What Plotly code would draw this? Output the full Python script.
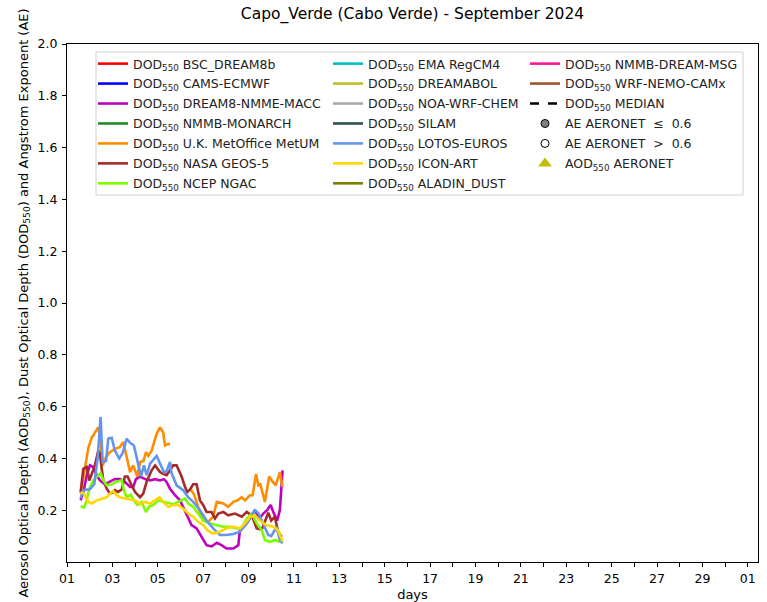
import pandas as pd
import plotly.graph_objects as go

# ---- model dust optical depth at 550 nm, Capo Verde, September 2024 ----
# times are given as fractional day of month; None marks a gap in the record
metum_days = [1.6, 1.79, 1.94, 2.09, 2.23, 2.38, 2.48, 2.57, 2.72, 2.89, 3.11, 3.33, 3.48, 3.63,
              3.78, 3.92, 4.1, 4.22, 4.37, 4.48, 4.58, 4.73, 4.95, 5.1, 5.24, 5.32, 5.42, 5.54,
              5.6, 6.45, 6.6, 6.78, 7.0, 7.22, 7.44, 7.6, 7.89, 8.1, 8.33, 8.55, 8.7, 8.85, 9.06,
              9.18, 9.33, 9.43, 9.52, 9.72, 9.91, 10.06, 10.2, 10.38, 10.5]
metum_dod = [0.264, 0.367, 0.44, 0.48, 0.50, 0.52, 0.47, 0.373, 0.405, 0.424, 0.437, 0.443, 0.463, 0.40,
             0.347, 0.373, 0.33, 0.386, 0.39, 0.424, 0.41, 0.43, 0.495, 0.52, 0.50, 0.45, 0.455, 0.456,
             None, 0.28, 0.26, 0.213, 0.16, 0.155, 0.175, 0.232, 0.226, 0.213, 0.232, 0.24, 0.25, 0.238, 0.258,
             0.258, 0.34, 0.296, 0.30, 0.232, 0.33, 0.31, 0.296, 0.347, 0.29]

geos5_days = [1.6, 1.72, 1.87, 1.98, 2.09, 2.23, 2.38, 2.45, 2.53, 2.6, 2.75, 2.89, 3.04, 3.11, 3.25,
              3.41, 3.55, 3.67, 3.85, 4.0, 4.22, 4.36, 4.51, 4.73, 4.88, 5.1, 5.24, 5.39, 5.54, 5.68,
              5.83, 6.05, 6.2, 6.3, 6.42, 6.56, 6.71, 6.86, 7.0, 7.15, 7.37, 7.52, 7.67, 7.89, 8.1,
              8.4, 8.7, 8.92, 9.14, 9.36, 9.58, 9.72, 9.87, 10.0, 10.16, 10.3, 10.46]
geos5_dod = [0.27, 0.36, 0.367, 0.315, 0.34, 0.373, 0.43, 0.42, 0.36, 0.315, 0.283, 0.264, 0.27, 0.277, 0.27,
             0.28, 0.33, 0.33, 0.296, 0.27, 0.25, 0.264, 0.31, 0.354, 0.373, 0.347, 0.34, 0.335, 0.354, 0.373,
             0.373, 0.33, 0.29, 0.27, 0.28, 0.30, 0.30, 0.238, 0.22, 0.193, 0.193, 0.168, 0.187, 0.193, 0.18,
             0.187, 0.175, 0.193, 0.18, 0.13, 0.125, 0.16, 0.19, 0.16, 0.175, 0.117, 0.097]

dream8_days = [1.6, 1.72, 1.87, 2.01, 2.16, 2.31, 2.45, 2.67, 2.89, 3.11, 3.33, 3.55, 3.78, 3.92, 4.04,
               4.22, 4.44, 4.66, 4.88, 5.1, 5.27, 5.38, 5.54, 5.76, 5.98, 6.12, 6.27, 6.49, 6.71, 6.93,
               7.15, 7.37, 7.6, 7.81, 8.03, 8.33, 8.55, 8.62, 8.85, 9.06, 9.28, 9.48, 9.65, 9.82, 9.97,
               10.12, 10.26, 10.38, 10.5]
dream8_dod = [0.238, 0.27, 0.335, 0.373, 0.367, 0.335, 0.315, 0.30, 0.31, 0.32, 0.32, 0.31, 0.29, 0.29, 0.32,
              0.33, 0.32, 0.315, 0.32, 0.315, 0.32, 0.31, 0.283, 0.258, 0.238, 0.213, 0.18, 0.142, 0.13, 0.097,
              0.065, 0.06, 0.074, 0.065, 0.052, 0.052, 0.065, 0.123, 0.142, 0.168, 0.2, 0.168, 0.187, 0.2, 0.22,
              0.187, 0.16, 0.2, 0.354]

ngac_days = [1.6, 1.75, 1.87, 1.98, 2.16, 2.31, 2.48, 2.6, 2.75, 2.97, 3.19, 3.41, 3.51, 3.63, 3.81,
             3.95, 4.1, 4.29, 4.48, 4.63, 4.8, 5.02, 5.24, 5.46, 5.68, 5.9, 6.2, 6.34, 6.56, 6.78,
             7.0, 7.3, 7.6, 7.89, 8.18, 8.47, 8.7, 8.92, 9.14, 9.36, 9.58, 9.72, 9.94, 10.16, 10.35, 10.5]
ngac_dod = [0.215, 0.21, 0.238, 0.283, 0.315, 0.33, 0.343, 0.315, 0.296, 0.30, 0.31, 0.315, 0.277, 0.25, 0.26,
            0.238, 0.22, 0.232, 0.193, 0.215, 0.22, 0.238, 0.232, 0.226, 0.223, 0.232, 0.245, 0.226, 0.213, 0.187,
            0.16, 0.149, 0.142, 0.136, 0.136, 0.13, 0.13, 0.168, 0.187, 0.149, 0.123, 0.085, 0.078, 0.085, 0.078, 0.09]

lotos_days = [1.6, 1.72, 1.87, 2.0, 2.2, 2.35, 2.48, 2.57, 2.72, 2.82, 2.97, 3.11, 3.30, 3.45, 3.63,
              3.78, 3.95, 4.07, 4.26, 4.39, 4.51, 4.66, 4.95, 5.10, 5.27, 5.38, 5.54, 5.60, 5.83, 6.12,
              6.34, 6.56, 6.86, 7.15, 7.44, 7.74, 8.0, 8.33, 8.62, 8.92, 9.14, 9.28, 9.42, 9.65, 9.87,
              10.0, 10.24, 10.38, 10.5]
lotos_dod = [0.246, 0.277, 0.28, 0.28, 0.30, 0.40, 0.56, 0.386, 0.39, 0.477, 0.48, 0.43, 0.40, 0.42, 0.476,
             0.46, 0.45, 0.405, 0.33, 0.373, 0.335, 0.38, 0.41, 0.38, 0.347, 0.35, 0.386, 0.345, 0.296, 0.277,
             0.25, 0.232, 0.2, 0.16, 0.13, 0.104, 0.104, 0.108, 0.117, 0.149, 0.18, 0.2, 0.19, 0.149, 0.104,
             0.10, 0.136, 0.085, 0.072]

iconart_days = [1.6, 1.75, 1.94, 2.09, 2.31, 2.53, 2.75, 2.89, 3.04, 3.19, 3.33, 3.55, 3.78, 4.0, 4.22,
                4.44, 4.66, 4.88, 5.07, 5.24, 5.46, 5.68, 5.9, 6.12, 6.34, 6.56, 6.78, 7.0, 7.22, 7.44,
                7.74, 8.03, 8.33, 8.62, 8.84, 9.06, 9.28, 9.5, 9.8, 10.09, 10.3, 10.5]
iconart_dod = [0.27, 0.264, 0.232, 0.226, 0.238, 0.245, 0.25, 0.264, 0.274, 0.258, 0.25, 0.245, 0.24, 0.238, 0.223,
               0.232, 0.226, 0.238, 0.25, 0.232, 0.213, 0.22, 0.22, 0.206, 0.187, 0.175, 0.155, 0.142, 0.12, 0.11,
               0.117, 0.13, 0.136, 0.13, 0.149, 0.175, 0.18, 0.16, 0.142, 0.136, 0.123, 0.078]

# ---- legend layout: (name, colour, column, days, values) ----
models = [
    ("BSC_DREAM8b", "#ff0000", 1, None, None),
    ("CAMS-ECMWF", "#0000ff", 1, None, None),
    ("DREAM8-NMME-MACC", "#bf00bf", 1, dream8_days, dream8_dod),
    ("NMMB-MONARCH", "#228b22", 1, None, None),
    ("U.K. MetOffice MetUM", "#ff8c00", 1, metum_days, metum_dod),
    ("NASA GEOS-5", "#a52a2a", 1, geos5_days, geos5_dod),
    ("NCEP NGAC", "#7cfc00", 1, ngac_days, ngac_dod),
    ("EMA RegCM4", "#00bfbf", 2, None, None),
    ("DREAMABOL", "#bfbf1f", 2, None, None),
    ("NOA-WRF-CHEM", "#a9a9a9", 2, None, None),
    ("SILAM", "#2f4f4f", 2, None, None),
    ("LOTOS-EUROS", "#6495ed", 2, lotos_days, lotos_dod),
    ("ICON-ART", "#ffd700", 2, iconart_days, iconart_dod),
    ("ALADIN_DUST", "#808000", 2, None, None),
    ("NMMB-DREAM-MSG", "#ff1493", 3, None, None),
    ("WRF-NEMO-CAMx", "#a0522d", 3, None, None),
]

start = pd.Timestamp("2024-09-01")


def to_time(days):
    return [start + pd.Timedelta(days=d - 1) for d in days]


legend_ids = {1: "legend", 2: "legend2", 3: "legend3"}

fig = go.Figure()
for name, color, col, days, vals in models:
    x = to_time(days) if days is not None else [None]
    y = vals if vals is not None else [None]
    fig.add_trace(go.Scatter(
        x=x, y=y, mode="lines", name=f"DOD<sub>550</sub> {name}",
        line=dict(color=color, width=2.6), connectgaps=False,
        legend=legend_ids[col], legendgroup=name, showlegend=True,
    ))

# median and AERONET entries (legend column 3)
extras = [
    ("DOD<sub>550</sub> MEDIAN", dict(mode="lines", line=dict(color="black", width=2.6, dash="dash"))),
    ("AE AERONET  ≤  0.6", dict(mode="markers", marker=dict(symbol="circle", size=8, color="#808080",
                                                             line=dict(color="black", width=1)))),
    ("AE AERONET  >  0.6", dict(mode="markers", marker=dict(symbol="circle", size=8, color="white",
                                                             line=dict(color="black", width=1)))),
    ("AOD<sub>550</sub> AERONET", dict(mode="markers", marker=dict(symbol="triangle-up", size=12,
                                                                    color="#bfbf00"))),
]
for label, style in extras:
    fig.add_trace(go.Scatter(x=[None], y=[None], name=label, legend="legend3", legendgroup=label, **style))

font_family = "DejaVu Sans"
leg_common = dict(bgcolor="rgba(0,0,0,0)", borderwidth=0, xanchor="left", yanchor="top",
                  font=dict(family=font_family, size=12.5, color="#222"), itemwidth=30,
                  traceorder="grouped", tracegroupgap=0.7)

L, R, T, B = 67, 9, 44, 40
W, H = 767, 602
pw, ph = W - L - R, H - T - B


def px_x(px):
    return (px - L) / pw


def px_y(py):
    return (H - B - py) / ph


fig.update_layout(
    width=W, height=H,
    margin=dict(l=L, r=R, t=T, b=B, autoexpand=False),
    paper_bgcolor="white", plot_bgcolor="white",
    font=dict(family=font_family, size=12, color="black"),
    title=dict(text="Capo_Verde (Cabo Verde) - September 2024", x=0.5 * (L + W - R) / W, xanchor="center",
               y=1 - 14 / H, yanchor="middle", font=dict(size=15.5, family=font_family)),
    legend=dict(**leg_common, x=px_x(93), y=px_y(49)),
    legend2=dict(**leg_common, x=px_x(328), y=px_y(49)),
    legend3=dict(**leg_common, x=px_x(525), y=px_y(49)),
    shapes=[dict(type="rect", xref="paper", yref="paper",
                 x0=px_x(96), x1=px_x(743), y0=px_y(195), y1=px_y(52),
                 line=dict(color="#d0d0d0", width=1), fillcolor="rgba(255,255,255,0.8)", layer="below")],
    xaxis=dict(
        type="date", automargin=False,
        range=[start, start + pd.Timedelta(days=30.45)],
        tick0=start, dtick=2 * 86400000, tickformat="%d",
        ticks="outside", ticklen=4, tickcolor="black", ticklabelstandoff=1,
        minor=dict(dtick=86400000, ticks="outside", ticklen=4, tickcolor="black"),
        showline=True, linecolor="black", linewidth=1, mirror=True,
        showgrid=False, zeroline=False,
        tickfont=dict(size=12.5, family=font_family),
        title=dict(text="days", font=dict(size=13, family=font_family), standoff=7),
    ),
    yaxis=dict(
        automargin=False,
        range=[0, 2.0],
        tickvals=[0.2, 0.4, 0.6, 0.8, 1.0, 1.2, 1.4, 1.6, 1.8, 2.0],
        ticktext=["0.2", "0.4", "0.6", "0.8", "1.0", "1.2", "1.4", "1.6", "1.8", "2.0"],
        ticks="outside", ticklen=4, tickcolor="black", ticklabelstandoff=2,
        showline=True, linecolor="black", linewidth=1, mirror=True,
        showgrid=False, zeroline=False,
        tickfont=dict(size=12.5, family=font_family),
        title=dict(text="Aerosol Optical Depth (AOD<sub>550</sub>), Dust Optical Depth (DOD<sub>550</sub>) "
                        "and Angstrom Exponent (AE)",
                   font=dict(size=13, family=font_family), standoff=6),
    ),
)

fig.write_html("out.html")
